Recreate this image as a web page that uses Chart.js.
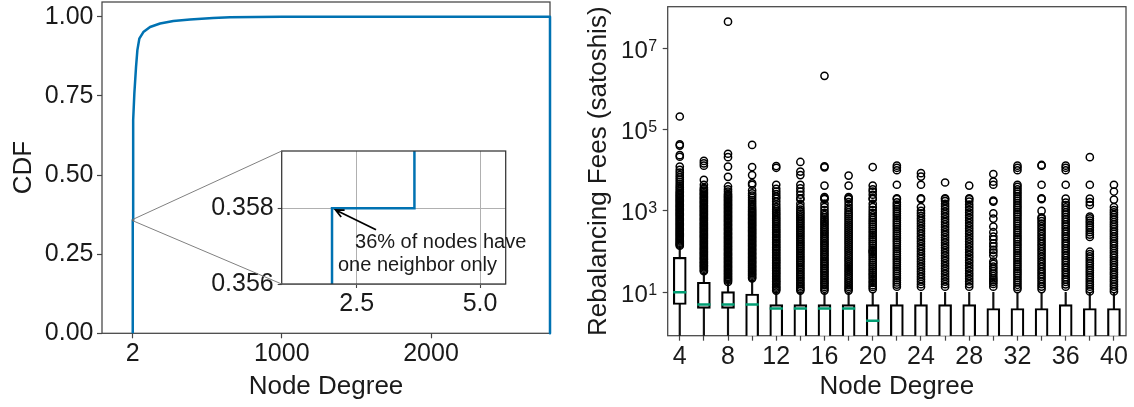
<!DOCTYPE html>
<html><head><meta charset="utf-8">
<script src="https://cdn.jsdelivr.net/npm/chart.js"></script>
<style>
html,body{margin:0;padding:0;background:#fff;}
#wrap{position:relative;width:1134px;height:407px;overflow:hidden;background:#fff;}
canvas{position:absolute;top:0;}
</style></head><body>
<div id="wrap">
<canvas id="cdf" width="560" height="407" style="left:0"></canvas>
<canvas id="inset" width="560" height="407" style="left:0"></canvas>
<canvas id="fees" width="574" height="407" style="left:560px"></canvas>
</div>
<script>
// ---------- Left panel: CDF of node degree ----------
const cdfDegree = [2, 2, 3.67, 3.67, 6, 12.7, 24, 33, 46, 73, 118, 185, 274, 386, 540, 654, 1000, 2797, 2797];
const cdfValue  = [0, 0.358, 0.358, 0.52, 0.674, 0.758, 0.842, 0.895, 0.931, 0.952, 0.968, 0.979, 0.987, 0.992, 0.9965, 0.9987, 1.0, 1.0, 0];
const cdfXTicks = [2, 1000, 2000];
const cdfYTicks = [0, 0.25, 0.5, 0.75, 1.0];
const insetXTicks = [2.5, 5.0];
const insetYTicks = [0.356, 0.358];
const insetXRange = [0.98, 5.52];
const insetYRange = [0.356, 0.35951];
const annotationLines = ['36% of nodes have', 'one neighbor only'];

// ---------- Right panel: rebalancing fees box plots ----------
// values below the visible log range (e.g. zero fees) are given as 0.5
const categories = [4, 6, 8, 10, 12, 14, 16, 18, 20, 22, 24, 26, 28, 30, 32, 34, 36, 38, 40];
const xTickLabels = ['4', '8', '12', '16', '20', '24', '28', '32', '36', '40'];
const q1 = [5, 4, 4, 0.5, 0.5, 0.5, 0.5, 0.5, 0.5, 0.5, 0.5, 0.5, 0.5, 0.5, 0.5, 0.5, 0.5, 0.5, 0.5];
const medians = [10, 5, 5, 5, 4, 4, 4, 4, 2, null, null, null, null, null, null, null, null, null, null];
const q3 = [72.6, 17.7, 10.4, 9.1, 5, 5, 5, 5, 5, 5, 5, 5, 5, 4, 4, 4, 5, 4, 4];
const whiskerLow = [0.5, 0.5, 0.5, 0.5, 0.5, 0.5, 0.5, 0.5, 0.5, 0.5, 0.5, 0.5, 0.5, 0.5, 0.5, 0.5, 0.5, 0.5, 0.5];
const whiskerHigh = [132, 30, 16.6, 20, 10, 10, 10, 10, 10, 10, 10, 10, 10, 10, 10, 10, 10, 10, 10];
const yTickValues = [10, 1000, 100000, 10000000];
const yTickBase = '10';
const yTickExponents = ['1', '3', '5', '7'];

const outliers4 = [140, 148, 157, 166, 178, 190, 203, 216, 232, 248, 265, 284, 305, 326, 350, 376, 402, 433, 465, 498, 535, 574, 617, 660, 712, 765, 820, 880, 945, 1015, 1090, 1170, 1260, 1350, 1450, 1560, 1680, 1800, 1940, 2080, 2240, 2410, 2600, 2800, 3050, 3350, 3700, 4100, 4600, 5200, 5900, 6700, 7600, 8800, 10200, 12300, 21500, 23500, 40500, 43500, 210000];
const outliers6 = [33, 35, 38, 41, 44, 47, 51, 54, 58, 63, 67, 72, 78, 84, 90, 97, 104, 112, 121, 130, 140, 151, 163, 175, 188, 203, 218, 235, 253, 272, 293, 316, 340, 366, 394, 425, 457, 492, 530, 572, 615, 662, 714, 768, 827, 890, 960, 1030, 1110, 1200, 1290, 1390, 1500, 1610, 1740, 1870, 2020, 2170, 2340, 2530, 2720, 2940, 3170, 3420, 3700, 4400, 5800, 13000, 14800, 17000];
const outliers8 = [18, 19.5, 21, 22.5, 24, 26, 28, 30, 32.5, 35, 37.5, 40.5, 43.5, 47, 50.5, 54.5, 58.5, 63, 68, 73, 79, 85, 91, 98, 106, 114, 123, 132, 142, 153, 165, 178, 192, 207, 223, 240, 259, 279, 300, 324, 349, 376, 405, 437, 471, 508, 547, 590, 636, 685, 739, 796, 858, 925, 997, 1075, 1160, 1250, 1350, 1450, 1570, 1690, 1820, 1960, 2120, 2280, 2460, 2650, 3000, 3400, 4000, 6900, 12300, 21000, 25500, 45000000];
const outliers10 = [22, 23.5, 25.5, 27.5, 29.5, 32, 34.5, 37, 40, 43, 46.5, 50, 54, 58, 62.5, 67.5, 72.5, 78, 84.5, 91, 98, 106, 114, 123, 133, 143, 154, 166, 179, 193, 208, 224, 242, 261, 281, 303, 327, 352, 380, 410, 442, 476, 513, 553, 597, 643, 694, 748, 806, 870, 938, 1010, 1100, 1200, 1320, 1480, 1650, 1850, 2100, 2400, 2700, 3200, 4400, 4800, 7600, 12000, 42000];
const outliers12 = [11, 12, 13, 14, 15.5, 17, 18.5, 20, 22, 24, 26.5, 29, 31.5, 34.5, 38, 41.5, 45.5, 50, 55, 60, 66, 72, 79, 87, 95, 105, 115, 126, 138, 152, 167, 183, 201, 221, 243, 267, 294, 323, 355, 390, 430, 475, 525, 580, 640, 710, 790, 880, 980, 1100, 1250, 1450, 1700, 2000, 2250, 2600, 3000, 3500, 4400, 11500, 12700];
const outliers14 = [11, 12, 13.2, 14.5, 16, 17.5, 19.5, 21.5, 23.5, 26, 28.5, 31.5, 35, 38.5, 42.5, 47, 52, 57.5, 63.5, 70, 77, 85, 94, 104, 115, 127, 140, 155, 171, 189, 209, 231, 256, 283, 313, 346, 383, 423, 468, 517, 572, 632, 700, 775, 860, 960, 1080, 1250, 1500, 1950, 2050, 2500, 3000, 3600, 4400, 7600, 9300, 16000];
const outliers16 = [11, 12.2, 13.5, 15, 16.5, 18, 20, 22, 24.5, 27, 30, 33, 36.5, 40, 44.5, 49, 54, 60, 66, 73, 81, 89, 99, 109, 121, 134, 148, 163, 181, 200, 222, 246, 272, 301, 333, 370, 410, 455, 505, 560, 625, 700, 790, 900, 1050, 1250, 1500, 1950, 2050, 2200, 4200, 11800, 12500, 2100000];
const outliers18 = [11, 12.2, 13.5, 15, 16.8, 18.6, 20.8, 23, 25.7, 28.6, 32, 35.5, 39.5, 44, 49, 55, 61, 68, 76, 85, 95, 106, 118, 132, 148, 166, 186, 208, 233, 261, 292, 327, 366, 410, 460, 515, 580, 650, 730, 820, 920, 1050, 1200, 1400, 1650, 1950, 2050, 2200, 4200, 7400];
const outliers20 = [12, 13.5, 15, 17, 19, 21.5, 24, 27, 30, 34, 38, 43, 48, 54, 61, 69, 78, 88, 97, 103, 110, 124, 140, 158, 178, 201, 227, 256, 289, 326, 368, 415, 470, 530, 600, 680, 780, 900, 1050, 1250, 1500, 1950, 2050, 2500, 3000, 3400, 4200, 12000];
const outliers22 = [13.7, 15.5, 17.5, 19.8, 22.5, 25.5, 29, 33, 37.5, 42.5, 48, 54.5, 62, 70, 79.5, 90, 102, 116, 131, 149, 169, 191, 217, 246, 279, 316, 358, 406, 460, 522, 592, 671, 760, 862, 977, 1110, 1260, 1430, 1620, 1950, 2050, 4400, 10000, 11500, 13000];
const outliers24 = [13.7, 15.8, 18.2, 21, 24.2, 28, 32.3, 37.3, 43, 49.6, 57.3, 66, 76.3, 88, 101.5, 117, 135, 156, 180, 208, 240, 277, 320, 369, 426, 492, 568, 656, 757, 874, 1010, 1250, 1950, 2050, 4400, 7000, 8500];
const outliers26 = [13.7, 15.8, 18.3, 21.2, 24.6, 28.5, 33, 38.2, 44.3, 51.3, 59.4, 68.8, 79.7, 92.3, 107, 124, 143.5, 166, 193, 223, 258, 299, 346, 401, 465, 538, 623, 722, 836, 968, 1120, 1300, 1500, 1750, 1950, 2050, 5000];
const outliers28 = [13.7, 15.9, 18.5, 21.5, 25, 29, 33.7, 39.2, 45.5, 52.9, 61.5, 71.4, 83, 96.5, 112, 130, 151, 176, 204, 237, 276, 320, 372, 432, 502, 584, 678, 788, 915, 1060, 1240, 1440, 1700, 1950, 2050, 4200];
const outliers30 = [13.7, 16, 18, 20, 22, 25, 29, 33, 38, 43, 50, 57, 80, 95, 110, 135, 160, 200, 235, 300, 410, 650, 870, 1700, 1800, 4400, 5250, 8100];
const outliers32 = [12, 13.5, 15.3, 17.4, 19.8, 22.5, 25.6, 29.1, 33.1, 37.6, 42.8, 48.6, 55.3, 62.9, 71.5, 81.3, 92.4, 105, 119, 136, 154, 176, 200, 227, 258, 294, 334, 380, 432, 491, 559, 635, 722, 821, 934, 1060, 1210, 1370, 1560, 1780, 2020, 2300, 2620, 2980, 3400, 3900, 4400, 10000, 11500, 13000];
const outliers34 = [12, 13.8, 15.8, 18.2, 21, 24.2, 27.9, 32.2, 37.1, 42.8, 49.4, 57, 65.7, 75.8, 87.4, 101, 116, 134, 155, 179, 206, 238, 274, 316, 365, 421, 486, 560, 646, 700, 1000, 1950, 2050, 4400, 13000, 13500];
const outliers36 = [13.7, 15.7, 18, 20.6, 23.6, 27, 31, 35.5, 40.7, 46.6, 53.4, 61.2, 70.1, 80.3, 92, 105, 121, 138, 158, 181, 208, 238, 273, 312, 358, 410, 470, 538, 617, 706, 809, 927, 1060, 1220, 1400, 1600, 2000, 4400, 10000, 11500, 13000];
const outliers38 = [10.5, 12, 13.7, 15.6, 17.8, 20.3, 23.2, 26.5, 30.2, 34.5, 39.4, 45, 51.3, 58.6, 66.9, 76.4, 87.2, 99.5, 230, 262, 299, 341, 389, 444, 507, 578, 660, 730, 1400, 1650, 2000, 4400, 21000];
const outliers40 = [10.5, 12, 13.8, 15.8, 18.1, 20.7, 23.7, 27.2, 31.1, 35.6, 40.8, 46.7, 53.5, 61.3, 70.2, 80.4, 92.1, 105, 121, 138, 158, 181, 207, 237, 272, 311, 356, 408, 467, 535, 613, 702, 804, 921, 1050, 1250, 1900, 3000, 4400];

// ---------- styling ----------
const SANS = '"Liberation Sans", Arial, sans-serif';
const TEXT = '#1a1a1a';
const AXIS = '#444444';
const BLUE = '#0072B2';
const GREEN = '#009E73';
const tickFont = {family: SANS, size: 25, lineHeight: 1.0};
const titleFont = {family: SANS, size: 26};

const framePlugin = {
  id: 'frame',
  beforeDatasetsDraw(chart) {
    const {ctx, chartArea: a} = chart;
    ctx.save();
    ctx.strokeStyle = AXIS;
    ctx.lineWidth = 1.25;
    ctx.strokeRect(a.left, a.top, a.right - a.left, a.bottom - a.top);
    ctx.restore();
  }
};

const cdfPoints = cdfDegree.map((x, i) => ({x: x, y: cdfValue[i]}));

const cdfChart = new Chart(document.getElementById('cdf'), {
  type: 'scatter',
  data: {datasets: [{data: cdfPoints, showLine: true, borderColor: BLUE, borderWidth: 2.5,
    pointRadius: 0, tension: 0, clip: false, borderJoinStyle: 'round'}]},
  options: {
    responsive: false, animation: false, devicePixelRatio: 1, events: [],
    layout: {autoPadding: false, padding: {left: 0, top: 2, right: 10, bottom: 0}},
    plugins: {legend: {display: false}, tooltip: {enabled: false}},
    scales: {
      x: {type: 'linear', min: -204, max: 2797,
        afterBuildTicks: s => { s.ticks = cdfXTicks.map(v => ({value: v})); },
        afterFit: s => { s.height = 73.7; s.paddingLeft = 0; s.paddingRight = 0; },
        ticks: {font: tickFont, color: TEXT, padding: 3.5, maxRotation: 0, callback: v => String(v)},
        grid: {drawOnChartArea: false, drawTicks: true, tickLength: 5, tickColor: AXIS, tickWidth: 1.2},
        border: {display: false},
        title: {display: true, text: 'Node Degree', font: titleFont, color: TEXT, padding: {top: 0, bottom: 4.7}}
      },
      y: {type: 'linear', min: 0, max: 1.047,
        afterBuildTicks: s => { s.ticks = cdfYTicks.map(v => ({value: v})); },
        afterFit: s => { s.width = 102; s.paddingTop = 0; s.paddingBottom = 0; },
        ticks: {font: tickFont, color: TEXT, padding: 3.5, callback: v => v.toFixed(2)},
        grid: {drawOnChartArea: false, drawTicks: true, tickLength: 5, tickColor: AXIS, tickWidth: 1.2},
        border: {display: false},
        title: {display: true, text: 'CDF', font: titleFont, color: TEXT, padding: {top: 8, bottom: 0}}
      }
    }
  },
  plugins: [framePlugin]
});

const insetPlugin = {
  id: 'insetDeco',
  beforeDraw(chart) {
    const {ctx, chartArea: a} = chart;
    ctx.save();
    ctx.fillStyle = '#ffffff';
    ctx.fillRect(a.left, a.top, a.right - a.left, a.bottom - a.top);
    ctx.restore();
  },
  afterDraw(chart) {
    const {ctx, chartArea: a, scales: {x, y}} = chart;
    const mx = cdfChart.scales.x, my = cdfChart.scales.y;
    ctx.save();
    ctx.strokeStyle = '#333333';
    ctx.lineWidth = 1.25;
    ctx.strokeRect(a.left, a.top, a.right - a.left, a.bottom - a.top);
    const rx0 = mx.getPixelForValue(insetXRange[0]), rx1 = mx.getPixelForValue(insetXRange[1]);
    const ry0 = my.getPixelForValue(insetYRange[0]), ry1 = my.getPixelForValue(insetYRange[1]);
    ctx.strokeStyle = '#555555';
    ctx.lineWidth = 1;
    ctx.strokeRect(rx0, ry1, Math.max(rx1 - rx0, 1), Math.max(ry0 - ry1, 1));
    ctx.strokeStyle = '#808080';
    ctx.beginPath();
    ctx.moveTo(rx0, ry1); ctx.lineTo(a.left, a.top);
    ctx.moveTo(rx0, ry0); ctx.lineTo(a.left, a.bottom);
    ctx.stroke();
    const tipX = x.getPixelForValue(2), tipY = y.getPixelForValue(0.358);
    const tailX = x.getPixelForValue(2.892), tailY = y.getPixelForValue(0.35743);
    const dx = tipX - tailX, dy = tipY - tailY, len = Math.hypot(dx, dy);
    const ux = dx / len, uy = dy / len;
    const hx = tipX - ux * 4, hy = tipY - uy * 4;
    ctx.strokeStyle = '#000000';
    ctx.lineWidth = 1.8;
    ctx.beginPath();
    ctx.moveTo(tailX, tailY); ctx.lineTo(hx, hy);
    const ang = Math.atan2(uy, ux), hl = 9, spread = 0.45;
    ctx.moveTo(hx - hl * Math.cos(ang - spread), hy - hl * Math.sin(ang - spread));
    ctx.lineTo(hx, hy);
    ctx.lineTo(hx - hl * Math.cos(ang + spread), hy - hl * Math.sin(ang + spread));
    ctx.stroke();
    ctx.fillStyle = TEXT;
    ctx.font = '20px ' + SANS;
    ctx.textAlign = 'left';
    ctx.textBaseline = 'alphabetic';
    ctx.fillText(annotationLines[0], x.getPixelForValue(2.466), y.getPixelForValue(0.35694));
    ctx.fillText(annotationLines[1], x.getPixelForValue(2.121), y.getPixelForValue(0.35635));
    ctx.restore();
  }
};

new Chart(document.getElementById('inset'), {
  type: 'scatter',
  data: {datasets: [{data: cdfPoints, showLine: true, borderColor: BLUE, borderWidth: 2.5,
    pointRadius: 0, tension: 0}]},
  options: {
    responsive: false, animation: false, devicePixelRatio: 1, events: [],
    layout: {autoPadding: false, padding: {left: 0, top: 151, right: 54.3, bottom: 83}},
    plugins: {legend: {display: false}, tooltip: {enabled: false}},
    scales: {
      x: {type: 'linear', min: insetXRange[0], max: insetXRange[1],
        afterBuildTicks: s => { s.ticks = insetXTicks.map(v => ({value: v})); },
        afterFit: s => { s.height = 40; s.paddingLeft = 0; s.paddingRight = 0; },
        ticks: {font: tickFont, color: TEXT, padding: 3.5, maxRotation: 0, callback: v => v.toFixed(1)},
        grid: {color: '#b0b0b0', lineWidth: 1, drawTicks: true, tickLength: 4, tickColor: AXIS, tickWidth: 1.1},
        border: {display: false}
      },
      y: {type: 'linear', min: insetYRange[0], max: insetYRange[1],
        afterBuildTicks: s => { s.ticks = insetYTicks.map(v => ({value: v})); },
        afterFit: s => { s.width = 281.7; s.paddingTop = 0; s.paddingBottom = 0; },
        ticks: {font: tickFont, color: TEXT, padding: 4, callback: v => v.toFixed(3)},
        grid: {color: '#b0b0b0', lineWidth: 1, drawTicks: true, tickLength: 4, tickColor: AXIS, tickWidth: 1.1},
        border: {display: false}
      }
    }
  },
  plugins: [insetPlugin]
});

// ---------- right chart ----------
const labels = categories.map(String);
const outlierSets = [outliers4, outliers6, outliers8, outliers10, outliers12, outliers14, outliers16,
  outliers18, outliers20, outliers22, outliers24, outliers26, outliers28, outliers30, outliers32,
  outliers34, outliers36, outliers38, outliers40];
const outlierPoints = [];
outlierSets.forEach((arr, i) => arr.forEach(v => outlierPoints.push({x: labels[i], y: v})));

const feesLabelPlugin = {
  id: 'feesLabels',
  afterDraw(chart) {
    const {ctx, chartArea, scales: {y}} = chart;
    ctx.save();
    ctx.fillStyle = TEXT;
    ctx.textBaseline = 'alphabetic';
    ctx.textAlign = 'right';
    yTickValues.forEach((v, i) => {
      const py = y.getPixelForValue(v);
      const expRight = chartArea.left - 10.5;
      ctx.font = '16px ' + SANS;
      const ew = ctx.measureText(yTickExponents[i]).width;
      ctx.fillText(yTickExponents[i], expRight, py + 2.5);
      ctx.font = '24px ' + SANS;
      ctx.fillText(yTickBase, expRight - ew - 0.5, py + 9.5);
    });
    ctx.restore();
  }
};

new Chart(document.getElementById('fees'), {
  type: 'bar',
  data: {
    labels: labels,
    datasets: [
      {type: 'scatter', data: outlierPoints, order: 0, pointRadius: 3.6, pointBorderWidth: 1.5,
        pointBackgroundColor: 'rgba(0,0,0,0)', pointBorderColor: '#000000', showLine: false},
      {type: 'line', data: medians, order: 1, showLine: false, pointStyle: 'line', pointRadius: 6.6,
        pointBorderWidth: 2.6, pointBorderColor: GREEN, pointBackgroundColor: GREEN},
      {type: 'bar', data: categories.map((c, i) => [q1[i], q3[i]]), order: 2, grouped: false,
        barThickness: 13, backgroundColor: '#ffffff', borderColor: '#000000', borderWidth: 2.2,
        borderSkipped: false},
      {type: 'bar', data: categories.map((c, i) => [whiskerLow[i], whiskerHigh[i]]), order: 3,
        grouped: false, barThickness: 1.5, backgroundColor: '#111111', borderWidth: 0}
    ]
  },
  options: {
    responsive: false, animation: false, devicePixelRatio: 1, events: [],
    layout: {autoPadding: false, padding: {left: 0, top: 6.7, right: 8, bottom: 0}},
    plugins: {legend: {display: false}, tooltip: {enabled: false}},
    scales: {
      x: {type: 'category', offset: true,
        afterFit: s => { s.height = 71.3; s.paddingLeft = 0; s.paddingRight = 0; },
        ticks: {font: tickFont, color: TEXT, padding: 3.5, autoSkip: false, maxRotation: 0,
          callback: function (val, idx) { const l = labels[idx]; return xTickLabels.includes(l) ? l : ''; }},
        grid: {drawOnChartArea: false, drawTicks: true, tickLength: 5, tickColor: AXIS, tickWidth: 1.2, offset: false},
        border: {display: false},
        title: {display: true, text: 'Node Degree', font: titleFont, color: TEXT, padding: {top: 0, bottom: 4.7}}
      },
      y: {type: 'logarithmic', min: 0.857, max: 1.05e8,
        afterBuildTicks: s => { s.ticks = yTickValues.map(v => ({value: v})); },
        afterFit: s => { s.width = 107.7; s.paddingTop = 0; s.paddingBottom = 0; },
        ticks: {font: tickFont, color: TEXT, padding: 5, callback: () => ''},
        grid: {drawOnChartArea: false, drawTicks: true, tickLength: 5, tickColor: AXIS, tickWidth: 1.2},
        border: {display: false},
        title: {display: true, text: 'Rebalancing Fees (satoshis)', font: titleFont, color: TEXT, padding: {top: 23, bottom: 0}}
      }
    }
  },
  plugins: [framePlugin, feesLabelPlugin]
});
</script>
</body></html>
